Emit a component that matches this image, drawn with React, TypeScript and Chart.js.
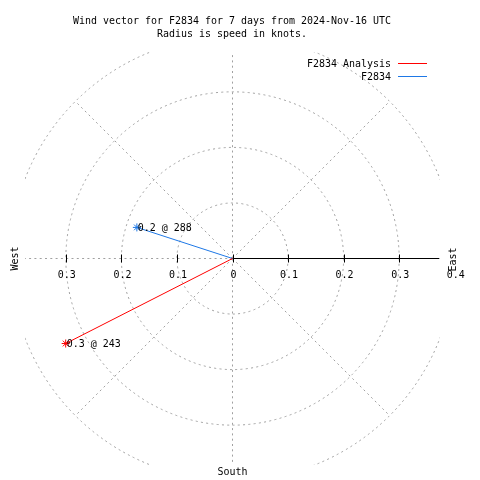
import React, { useEffect, useRef } from "react";
import { Chart, registerables } from "chart.js";

Chart.register(...registerables);

const titleLines = [
  "Wind vector for F2834 for 7 days from 2024-Nov-16 UTC",
  "Radius is speed in knots.",
];
const seriesNames = ["F2834 Analysis", "F2834"];
const seriesColors = ["#ff0000", "#1e78e6"];
const speeds = [0.337, 0.181];
const directions = [243, 288];
const ringValues = [0.1, 0.2, 0.3, 0.4];
const rightTickValues = [0, 0.1, 0.2, 0.3, 0.4];
const rightTickLabels = ["0", "0.1", "0.2", "0.3", "0.4"];
const leftTickValues = [-0.1, -0.2, -0.3];
const leftTickLabels = ["0.1", "0.2", "0.3"];
const spokeAngles = [0, 45, 90, 135, 180, 225, 270, 315];

const FONT = "11px 'DejaVu Sans Mono', monospace";
const CW = 6;

function txt(ctx: CanvasRenderingContext2D, s: string, x: number, y: number) {
  ctx.fillText(s, x, y, s.length * CW);
}

const polarPlugin = {
  id: "polarDecor",
  beforeDatasetsDraw(chart: any) {
    const ctx: CanvasRenderingContext2D = chart.ctx;
    const xs = chart.scales.x;
    const ys = chart.scales.y;
    const ca = chart.chartArea;
    const cx = xs.getPixelForValue(0);
    const cy = ys.getPixelForValue(0);
    const unit = xs.getPixelForValue(1) - cx;
    const rMax = ringValues[ringValues.length - 1] * unit;
    ctx.save();
    ctx.beginPath();
    ctx.rect(ca.left, ca.top, ca.right - ca.left, ca.bottom - ca.top);
    ctx.clip();
    ctx.strokeStyle = "#a0a0a0";
    ctx.lineWidth = 1;
    ctx.setLineDash([2, 3.3]);
    ringValues.forEach((r) => {
      ctx.beginPath();
      ctx.arc(cx, cy, r * unit, 0, Math.PI * 2);
      ctx.stroke();
    });
    spokeAngles.forEach((a) => {
      const rad = (a * Math.PI) / 180;
      ctx.beginPath();
      ctx.moveTo(cx, cy);
      ctx.lineTo(cx + Math.cos(rad) * rMax, cy - Math.sin(rad) * rMax);
      ctx.stroke();
    });
    ctx.restore();

    // solid radial axis to the right
    ctx.save();
    ctx.strokeStyle = "#000";
    ctx.lineWidth = 1;
    ctx.beginPath();
    ctx.moveTo(cx, cy);
    ctx.lineTo(ca.right - 1, cy);
    ctx.stroke();
    [...rightTickValues.filter((v) => xs.getPixelForValue(v) < ca.right), ...leftTickValues].forEach((v) => {
      const px = Math.round(xs.getPixelForValue(v)) + 0.5;
      ctx.beginPath();
      ctx.moveTo(px, cy - 4);
      ctx.lineTo(px, cy + 4);
      ctx.stroke();
    });
    ctx.restore();
  },
  afterDatasetsDraw(chart: any) {
    const ctx: CanvasRenderingContext2D = chart.ctx;
    const xs = chart.scales.x;
    const ys = chart.scales.y;
    const cx = xs.getPixelForValue(0);
    const cy = ys.getPixelForValue(0);
    ctx.save();
    ctx.font = FONT;
    ctx.fillStyle = "#000";
    // tick labels
    ctx.textAlign = "center";
    ctx.textBaseline = "alphabetic";
    rightTickValues.forEach((v, i) => txt(ctx, rightTickLabels[i], xs.getPixelForValue(v) + 1, cy + 19.5));
    leftTickValues.forEach((v, i) => txt(ctx, leftTickLabels[i], xs.getPixelForValue(v) + 1, cy + 19.5));
    // title
    titleLines.forEach((s, i) => txt(ctx, s, 232, 24 + i * 13));
    // compass labels
    txt(ctx, "South", cx, 475);
    ctx.save();
    ctx.translate(18, cy);
    ctx.rotate(-Math.PI / 2);
    txt(ctx, "West", 0, 0);
    ctx.restore();
    ctx.save();
    ctx.translate(456, cy + 1);
    ctx.rotate(-Math.PI / 2);
    txt(ctx, "East", 0, 0);
    ctx.restore();
    // legend
    ctx.textAlign = "right";
    seriesNames.forEach((n, i) => {
      const y = 67 + i * 12.5;
      ctx.fillStyle = "#000";
      txt(ctx, n, 391, y);
      ctx.strokeStyle = seriesColors[i];
      ctx.lineWidth = 1;
      ctx.beginPath();
      const ly = Math.round(y - 4) + 0.5;
      ctx.moveTo(398, ly);
      ctx.lineTo(427, ly);
      ctx.stroke();
    });
    // point labels
    ctx.textAlign = "left";
    ctx.textBaseline = "middle";
    ctx.fillStyle = "#000";
    chart.data.datasets.forEach((ds: any, i: number) => {
      const meta = chart.getDatasetMeta(i);
      const p = meta.data[1];
      const label = `${speeds[i].toFixed(1)} @ ${directions[i]}`;
      txt(ctx, label, p.x + 1, p.y + 1);
    });
    ctx.restore();
  },
};

export default function App() {
  const ref = useRef<HTMLCanvasElement | null>(null);
  useEffect(() => {
    if (!ref.current) return;
    const datasets = speeds.map((s, i) => {
      const rad = (directions[i] * Math.PI) / 180;
      return {
        label: seriesNames[i],
        data: [
          { x: 0, y: 0 },
          { x: s * Math.sin(rad), y: s * Math.cos(rad) },
        ],
        showLine: true,
        borderColor: seriesColors[i],
        borderWidth: 1,
        pointRadius: [0, 4],
        pointStyle: "star",
        pointBorderColor: seriesColors[i],
        pointBackgroundColor: seriesColors[i],
        pointBorderWidth: 1,
      };
    });
    const chart = new Chart(ref.current, {
      type: "scatter",
      data: { datasets: datasets as any },
      options: {
        animation: false,
        responsive: true,
        maintainAspectRatio: false,
        layout: { padding: { left: 25, right: 40, top: 52, bottom: 15 } },
        scales: {
          x: { type: "linear", min: -0.3735, max: 0.3735, display: false },
          y: { type: "linear", min: -0.3716, max: 0.3716, display: false },
        },
        plugins: {
          legend: { display: false },
          title: { display: false },
          tooltip: { enabled: false },
        },
      },
      plugins: [polarPlugin],
    });
    return () => chart.destroy();
  }, []);
  return (
    <div style={{ position: "fixed", left: 0, top: 0, width: 480, height: 480, background: "#fff" }}>
      <canvas ref={ref} width={480} height={480} />
    </div>
  );
}
